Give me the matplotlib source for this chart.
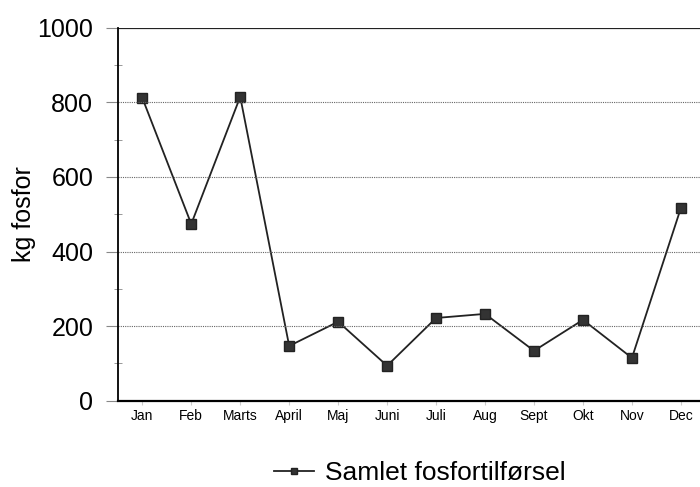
import matplotlib.pyplot as plt

plt.rcParams['font.family'] = ['Liberation Sans', 'DejaVu Sans']

months = ['Jan', 'Feb', 'Marts', 'April', 'Maj', 'Juni', 'Juli', 'Aug', 'Sept', 'Okt', 'Nov', 'Dec']
fosfor = [812, 474, 815, 147, 212, 94, 222, 233, 134, 217, 115, 517]

fig = plt.figure(figsize=(7, 4.87), dpi=100)
ax = fig.add_axes([0.169, 0.177, 0.831, 0.766])

x = list(range(len(months)))
ax.plot(x, fosfor, color='#222222', lw=1.3, marker='s', ms=7,
        mfc='#333333', mec='#222222', label='Samlet fosfortilførsel')

ax.set_xlim(-0.49, 11.39)
ax.set_ylim(0, 1000)
ax.set_yticks([0, 200, 400, 600, 800, 1000])
ax.set_yticks([100, 300, 500, 700, 900], minor=True)
ax.set_xticks(x)
ax.set_xticklabels(months, fontsize=10)
ax.tick_params(axis='y', labelsize=18, length=9, color='#888888', width=0.8, pad=9)
ax.tick_params(axis='y', which='minor', length=6, color='#888888', direction='inout')
ax.tick_params(axis='x', length=3, color='#cccccc', pad=3)

for v in [200, 400, 600, 800]:
    ax.axhline(v, color='#666666', lw=0.8, ls=(0, (1, 1)))
ax.axhline(1000, color='#222222', lw=1.6)

ax.spines['right'].set_visible(False)
ax.spines['top'].set_visible(False)
ax.spines['left'].set_linewidth(1.3)
ax.spines['bottom'].set_linewidth(1.6)

ax.set_ylabel('kg fosfor', fontsize=18)
ax.yaxis.set_label_coords(-0.142, 0.5)

fig.legend(loc='center', bbox_to_anchor=(0.6, 0.028), frameon=False,
           fontsize=19, handlelength=1.5, handletextpad=0.45, markerscale=0.7)

fig.savefig('out.png', dpi=100)
